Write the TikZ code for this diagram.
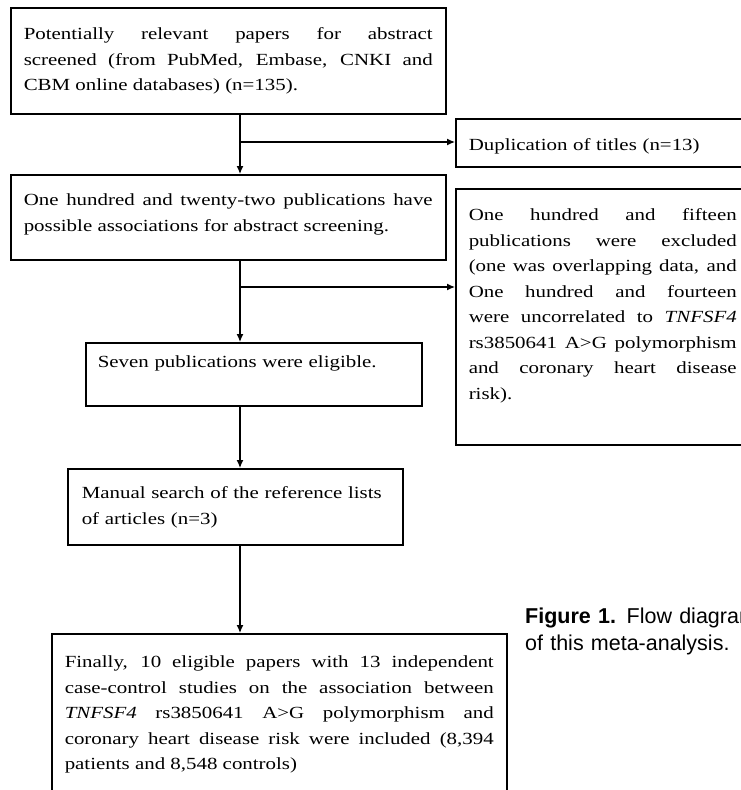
\documentclass[tikz,border=0pt]{standalone}
\usepackage{fontspec}
\setmainfont{Liberation Serif}[FakeStretch=1.23]
\newfontfamily\captionfont{Liberation Sans}
\usetikzlibrary{arrows.meta}

\begin{document}
\begin{tikzpicture}
[x=1pt,y=-1pt,%
  boxDecorate/.style={draw,line width=1.5pt,anchor=north west,inner ysep=0pt,
    inner xsep=13pt,align=justify,font=\fontsize{17}{25.5}\selectfont},%
  arrowDecorate/.style={-{Latex[length=8pt,width=7pt]},line width=1.2pt}]
\useasboundingbox (0,0) rectangle (741,790);
\clip (0,0) rectangle (741,790);
%% boxes
\node (screened) at (10,7) [boxDecorate,text width=409pt,text height=32pt,text depth=74pt]
  {Potentially relevant papers for abstract\linebreak
   screened (from PubMed, Embase, CNKI and\linebreak
   CBM online databases) (n=135).};
\node (possible) at (10,174) [boxDecorate,text width=409pt,text height=31pt,text depth=54pt]
  {One hundred and twenty-two publications have\linebreak
   possible associations for abstract screening.};
\node (dup) at (455,118) [boxDecorate,align=left,text width=300pt,text height=32pt,text depth=16pt]
  {Duplication of titles (n=13)};
\node (excl) at (455,188) [boxDecorate,text width=268pt,text height=32pt,text depth=224pt]
  {One hundred and fifteen\linebreak
   publications were excluded\linebreak
   (one was overlapping data, and\linebreak
   One hundred and fourteen\linebreak
   were uncorrelated to \textit{TNFSF4}\linebreak
   rs3850641 A>G polymorphism\linebreak
   and coronary heart disease\linebreak
   risk).};
\node (eligible) at (85,342) [boxDecorate,inner xsep=12pt,align=left,text width=312pt,text height=25pt,text depth=38pt]
  {Seven publications were eligible.};
\node (manual) at (67,468) [boxDecorate,inner xsep=14pt,align=left,text width=307pt,text height=30pt,text depth=46pt]
  {Manual search of the reference lists\\
   of articles (n=3)};
\node (final) at (51,633) [boxDecorate,text width=429pt,text height=34pt,text depth=200pt]
  {Finally, 10 eligible papers with 13 independent\linebreak
   case-control studies on the association between\linebreak
   \textit{TNFSF4} rs3850641 A>G polymorphism and\linebreak
   coronary heart disease risk were included (8,394\linebreak
   patients and 8,548 controls)};
%% caption
\node (caption) at (525,623) [anchor=base west,inner sep=0pt,text width=300pt,align=left,
  font=\captionfont\fontsize{21.5}{27}\selectfont]
  {\textbf{Figure 1.} Flow diagram\\of this meta-analysis.};
%% arrows
\coordinate (spine) at (240,0);
\coordinate (split1) at (240,142);
\coordinate (split2) at (240,287);
\foreach \startnode/\endnode in {
  screened/possible, possible/eligible, eligible/manual, manual/final}
{
  \draw[arrowDecorate] (\startnode.south -| spine) -- (\endnode.north -| spine);
}
\foreach \split/\endnode in {split1/dup, split2/excl}
{
  \draw[arrowDecorate] (\split) -- (\split -| \endnode.west);
}
\end{tikzpicture}
\end{document}
